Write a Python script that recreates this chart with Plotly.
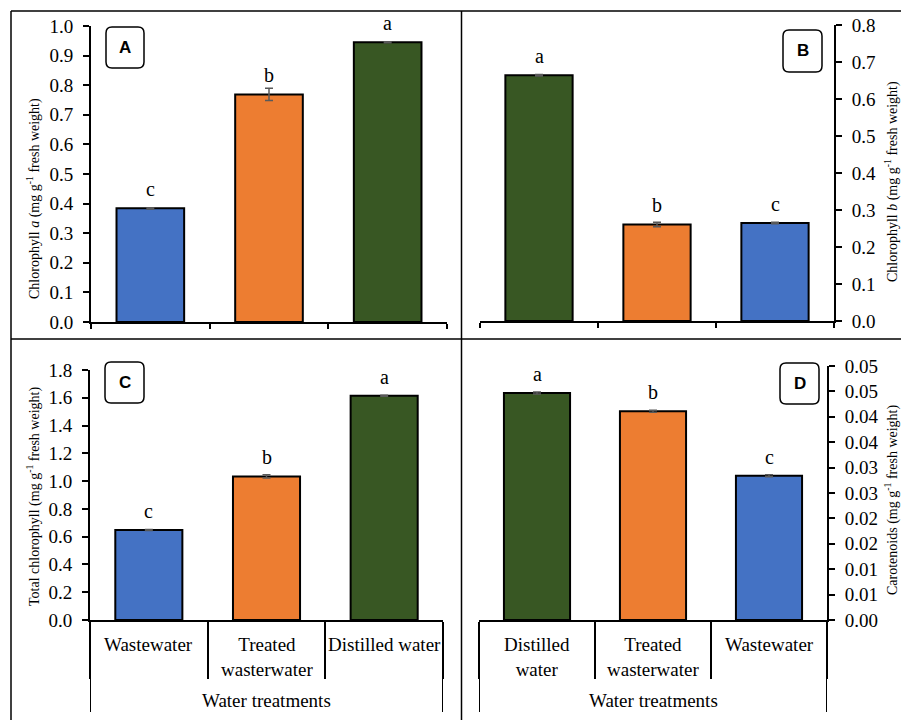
import plotly.graph_objects as go

# ---- data -------------------------------------------------------------
cats_ac = ["Wastewater", "Treated wasterwater", "Distilled water"]
cats_bd = ["Distilled water", "Treated wasterwater", "Wastewater"]

chl_a = [0.384, 0.769, 0.945]
chl_a_err = [0.002, 0.021, 0.002]
chl_a_sig = ["c", "b", "a"]

chl_b = [0.664, 0.261, 0.265]
chl_b_err = [0.002, 0.006, 0.002]
chl_b_sig = ["a", "b", "c"]

chl_total = [0.648, 1.034, 1.615]
chl_total_err = [0.003, 0.012, 0.004]
chl_total_sig = ["c", "b", "a"]

carot = [0.0447, 0.0411, 0.0284]
carot_err = [0.0002, 0.0002, 0.0002]
carot_sig = ["a", "b", "c"]

labels_ac = ["Wastewater", "Treated<br>wasterwater", "Distilled water"]
labels_bd = ["Distilled<br>water", "Treated<br>wasterwater", "Wastewater"]

carot_tickvals = [0.0, 0.005, 0.01, 0.015, 0.02, 0.025, 0.03, 0.035, 0.04, 0.045, 0.05]
carot_ticktext = ["0.00", "0.01", "0.01", "0.02", "0.02", "0.03", "0.03",
                  "0.04", "0.04", "0.05", "0.05"]

# ---- styling ----------------------------------------------------------
W, H = 901, 720
BLUE, ORANGE, GREEN = "#4472C4", "#ED7D31", "#385723"
colors_ac = [BLUE, ORANGE, GREEN]
colors_bd = [GREEN, ORANGE, BLUE]
SERIF = "Liberation Serif, Times New Roman, serif"
SANS = "Liberation Sans, Arial, sans-serif"


def xp(px):
    return px / W


def yp(py):
    return 1 - py / H


fig = go.Figure()

panels = [
    # name, cats, values, errors, sig, colors, xdomain(px), ydomain(px), range, side
    ("1", cats_ac, chl_a, chl_a_err, chl_a_sig, colors_ac, (91, 447), (26, 322), [0, 1.0], "left"),
    ("2", cats_bd, chl_b, chl_b_err, chl_b_sig, colors_bd, (480, 834), (25, 321), [0, 0.8], "right"),
    ("3", cats_ac, chl_total, chl_total_err, chl_total_sig, colors_ac, (90, 443), (370, 620), [0, 1.8], "left"),
    ("4", cats_bd, carot, carot_err, carot_sig, colors_bd, (479, 827), (366, 620), [0, 0.05], "right"),
]

layout = {}
for name, cats, vals, errs, sig, cols, xd, yd, yr, side in panels:
    xa = "x" if name == "1" else "x" + name
    ya = "y" if name == "1" else "y" + name
    fig.add_trace(go.Bar(
        x=cats, y=vals, xaxis=xa, yaxis=ya, width=0.57,
        marker=dict(color=cols, line=dict(color="#000000", width=2)),
        error_y=dict(type="data", array=errs, visible=True,
                     color="#595959", thickness=1.5, width=4),
        showlegend=False, hoverinfo="skip",
    ))
    # significance letters above each bar
    for c, v, s in zip(cats, vals, sig):
        fig.add_annotation(x=c, y=v, xref=xa, yref=ya, text=s, showarrow=False,
                           xanchor="center", yanchor="bottom", yshift=6,
                           font=dict(family=SERIF, size=20, color="#000000"))
    bottom = name in ("3", "4")
    xkey = "xaxis" if name == "1" else "xaxis" + name
    ykey = "yaxis" if name == "1" else "yaxis" + name
    layout[xkey] = dict(
        domain=[xp(xd[0]), xp(xd[1])], anchor=ya, type="category",
        categoryorder="array", categoryarray=cats, range=[-0.5, 2.5],
        showline=True, linecolor="#000000", linewidth=2,
        ticks="outside", tickson="boundaries",
        ticklen=57 if bottom else 5, tickwidth=2, tickcolor="#000000",
        showticklabels=False, showgrid=False, zeroline=False, fixedrange=True,
        automargin=False,
    )
    ydict = dict(
        domain=[yp(yd[1]), yp(yd[0])], anchor=xa, side=side, range=yr,
        showline=True, linecolor="#000000", linewidth=2,
        ticks="outside", ticklen=6, tickwidth=2, tickcolor="#000000",
        ticklabelstandoff=6, automargin=False,
        tickfont=dict(family=SERIF, size=19, color="#000000"),
        showgrid=False, zeroline=False, fixedrange=True,
    )
    if name == "4":
        ydict.update(tickmode="array", tickvals=carot_tickvals, ticktext=carot_ticktext)
    elif name == "3":
        ydict.update(dtick=0.2, tickformat=".1f")
    else:
        ydict.update(dtick=0.1, tickformat=".1f")
    layout[ykey] = ydict

    if bottom:
        # category names under the axis and the outer group lines
        for c, lab in zip(cats, labels_ac if name == "3" else labels_bd):
            fig.add_annotation(x=c, y=yp(632), xref=xa, yref="paper", text=lab,
                               showarrow=False, xanchor="center", yanchor="top",
                               font=dict(family=SERIF, size=19, color="#000000"))
        for xv in (-0.5, 2.5):
            fig.add_shape(type="line", xref=xa, yref="paper", x0=xv, x1=xv,
                          y0=yp(620), y1=yp(712),
                          line=dict(color="#000000", width=2))
        fig.add_annotation(x=1, y=yp(700), xref=xa, yref="paper",
                           text="Water treatments", showarrow=False,
                           xanchor="center", yanchor="middle",
                           font=dict(family=SERIF, size=19, color="#000000"))

# axis titles
ytitles = [
    ("Chlorophyll <i>a</i> (mg g<sup>-1</sup> fresh weight)", 33, 199),
    ("Chlorophyll <i>b</i> (mg g<sup>-1</sup> fresh weight)", 891, 182),
    ("Total chlorophyll (mg g<sup>-1</sup> fresh weight)", 33, 497),
    ("Carotenoids (mg g<sup>-1</sup> fresh weight)", 891, 500),
]
for txt, x, y in ytitles:
    fig.add_annotation(x=xp(x), y=yp(y), xref="paper", yref="paper", text=txt,
                       textangle=-90, showarrow=False,
                       xanchor="center", yanchor="middle",
                       font=dict(family=SERIF, size=14, color="#000000"))


# rounded panel-letter boxes
def rounded_box(x0, y0, x1, y1, r=6):
    rx, ry = r / W, r / H
    X0, X1 = xp(x0), xp(x1)
    Y0, Y1 = yp(y1), yp(y0)  # bottom, top in paper units
    return (f"M {X0 + rx},{Y1} L {X1 - rx},{Y1} Q {X1},{Y1} {X1},{Y1 - ry} "
            f"L {X1},{Y0 + ry} Q {X1},{Y0} {X1 - rx},{Y0} "
            f"L {X0 + rx},{Y0} Q {X0},{Y0} {X0},{Y0 + ry} "
            f"L {X0},{Y1 - ry} Q {X0},{Y1} {X0 + rx},{Y1} Z")


boxes = [("A", 106, 27, 144, 68), ("B", 783, 30, 822, 72),
         ("C", 105, 362, 144, 403), ("D", 780, 363, 819, 404)]
for letter, x0, y0, x1, y1 in boxes:
    fig.add_shape(type="path", path=rounded_box(x0, y0, x1, y1), xref="paper",
                  yref="paper", line=dict(color="#000000", width=1.5),
                  fillcolor="#ffffff")
    fig.add_annotation(x=xp((x0 + x1) / 2), y=yp((y0 + y1) / 2), xref="paper",
                       yref="paper", text=f"<b>{letter}</b>", showarrow=False,
                       xanchor="center", yanchor="middle",
                       font=dict(family=SANS, size=17, color="#000000"))

# figure frame and panel dividers
frame = [((11, 11), (901, 11)), ((11, 11), (11, 720)),
         ((461.5, 11), (461.5, 720)), ((11, 339), (901, 339))]
for (ax, ay), (bx, by) in frame:
    fig.add_shape(type="line", xref="paper", yref="paper",
                  x0=xp(ax), y0=yp(ay), x1=xp(bx), y1=yp(by),
                  line=dict(color="#000000", width=1.5))

fig.update_layout(
    width=W, height=H, margin=dict(l=0, r=0, t=0, b=0),
    paper_bgcolor="#ffffff", plot_bgcolor="#ffffff",
    bargap=0.43, **layout,
)

fig.write_html("out.html")
